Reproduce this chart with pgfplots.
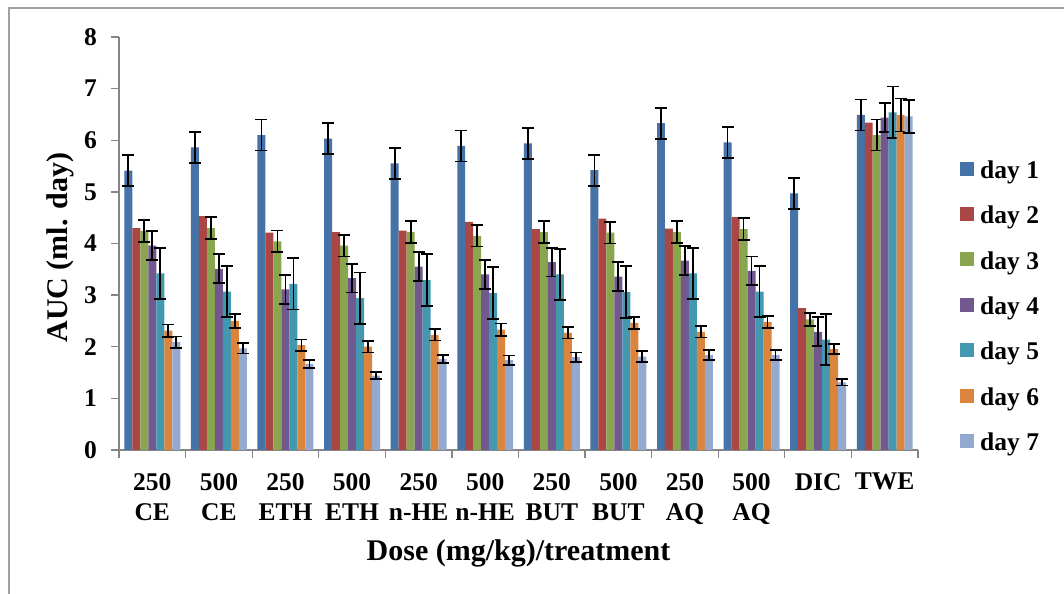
\documentclass[border=0pt]{standalone}
\usepackage{pgfplots}
\pgfplotsset{compat=1.18}
\usepackage{fontspec}
\setmainfont{Liberation Serif}
\definecolor{c1}{HTML}{4572A7}
\definecolor{c2}{HTML}{AA4643}
\definecolor{c3}{HTML}{89A54E}
\definecolor{c4}{HTML}{71588F}
\definecolor{c5}{HTML}{4198AF}
\definecolor{c6}{HTML}{DB843D}
\definecolor{c7}{HTML}{93A9CF}
\definecolor{axgray}{HTML}{868686}
\definecolor{framegray}{HTML}{A0A0A0}
\pgfplotsset{
  errstyle/.style={error bars/.cd, y dir=both, y explicit,
    error bar style={draw=black, solid, line width=1.8bp},
    error mark options={rotate=90, mark size=6bp, draw=black, solid, line width=1.8bp}},
}
\begin{document}
\begin{tikzpicture}[x=1bp,y=1bp]
\useasboundingbox (0,0) rectangle (1064,594);
\draw[line width=2bp, color=framegray] (8.5,-2) -- (8.5,586) -- (1066,586);
\begin{axis}[
  at={(119bp,144bp)}, anchor=south west,
  scale only axis, width=799bp, height=413bp,
  ybar, bar width=0.12,
  xmin=-0.5, xmax=11.5, ymin=0, ymax=8,
  axis x line*=bottom, axis y line*=left,
  axis line style={draw=axgray, line width=1.3bp},
  every tick/.style={draw=axgray, line width=1.3bp},
  tick align=outside, major tick length=8bp,
  ytick={0,1,...,8},
  xtick={-0.5,0.5,...,11.5}, xticklabels={},
  extra x ticks={0,1,...,11},
  extra x tick labels={{250\\CE},{500\\CE},{250\\ETH},{500\\ETH},{250\\n-HE},{500\\n-HE},{250\\BUT},{500\\BUT},{250\\AQ},{500\\AQ},{DIC},{TWE}},
  extra x tick style={major tick length=0pt, tick style={draw=none},
    xticklabel style={align=center, anchor=north, inner sep=0pt, yshift=-23bp,
      font=\fontsize{25.5bp}{30bp}\selectfont\bfseries}},
  /pgf/number format/assume math mode=true,
  yticklabel style={font=\fontsize{25.5bp}{30bp}\selectfont\bfseries, anchor=east, inner sep=0pt, xshift=-14bp},
  ylabel={AUC (ml. day)},
  xlabel={Dose (mg/kg)/treatment},
  ylabel style={at={(axis description cs:-0.0738,0.49)}, anchor=center, rotate=0,
    font=\fontsize{30bp}{36bp}\selectfont\bfseries},
  xlabel style={at={(axis description cs:0.5,-0.2494)}, anchor=center,
    font=\fontsize{30bp}{36bp}\selectfont\bfseries},
  legend image code/.code={\fill[#1] (0bp,-5.4bp) rectangle (14bp,8.6bp); \path (20bp,0bp);},
  legend style={at={(axis description cs:1.0526,0.701)}, anchor=north west,
    draw=none, fill=none, inner sep=0pt, row sep=26.2bp,
    nodes={inner sep=0pt},
    font=\fontsize{25.5bp}{30bp}\selectfont\bfseries},
  legend cell align=left,
]
\addplot[fill=c1, draw=none, bar shift=-0.36, errstyle] coordinates {
(0,5.41) +- (0,0.30) (1,5.86) +- (0,0.30) (2,6.10) +- (0,0.30) (3,6.03) +- (0,0.30)
(4,5.55) +- (0,0.30) (5,5.89) +- (0,0.30) (6,5.94) +- (0,0.30) (7,5.42) +- (0,0.30)
(8,6.33) +- (0,0.30) (9,5.96) +- (0,0.30) (10,4.97) +- (0,0.30) (11,6.49) +- (0,0.30)};
\addlegendentry{day 1}
\addplot[fill=c2, draw=none, bar shift=-0.24] coordinates {
(0,4.30) (1,4.53) (2,4.21) (3,4.22) (4,4.25) (5,4.42) (6,4.28) (7,4.48) (8,4.29) (9,4.51) (10,2.75) (11,6.34)};
\addlegendentry{day 2}
\addplot[fill=c3, draw=none, bar shift=-0.12, errstyle] coordinates {
(0,4.24) +- (0,0.21) (1,4.30) +- (0,0.21) (2,4.04) +- (0,0.21) (3,3.96) +- (0,0.21)
(4,4.22) +- (0,0.21) (5,4.15) +- (0,0.21) (6,4.22) +- (0,0.21) (7,4.21) +- (0,0.21)
(8,4.22) +- (0,0.21) (9,4.28) +- (0,0.21) (10,2.53) +- (0,0.13) (11,6.10) +- (0,0.30)};
\addlegendentry{day 3}
\addplot[fill=c4, draw=none, bar shift=0, errstyle] coordinates {
(0,3.96) +- (0,0.28) (1,3.51) +- (0,0.28) (2,3.11) +- (0,0.28) (3,3.33) +- (0,0.28)
(4,3.55) +- (0,0.28) (5,3.40) +- (0,0.28) (6,3.64) +- (0,0.28) (7,3.36) +- (0,0.28)
(8,3.67) +- (0,0.28) (9,3.47) +- (0,0.28) (10,2.29) +- (0,0.28) (11,6.44) +- (0,0.28)};
\addlegendentry{day 4}
\addplot[fill=c5, draw=none, bar shift=0.12, errstyle] coordinates {
(0,3.42) +- (0,0.50) (1,3.07) +- (0,0.50) (2,3.22) +- (0,0.50) (3,2.94) +- (0,0.50)
(4,3.29) +- (0,0.50) (5,3.04) +- (0,0.50) (6,3.40) +- (0,0.50) (7,3.06) +- (0,0.50)
(8,3.42) +- (0,0.50) (9,3.07) +- (0,0.50) (10,2.14) +- (0,0.50) (11,6.54) +- (0,0.50)};
\addlegendentry{day 5}
\addplot[fill=c6, draw=none, bar shift=0.24, errstyle] coordinates {
(0,2.31) +- (0,0.12) (1,2.50) +- (0,0.13) (2,2.03) +- (0,0.11) (3,2.00) +- (0,0.11)
(4,2.23) +- (0,0.11) (5,2.33) +- (0,0.12) (6,2.27) +- (0,0.11) (7,2.46) +- (0,0.12)
(8,2.29) +- (0,0.11) (9,2.48) +- (0,0.12) (10,1.96) +- (0,0.10) (11,6.49) +- (0,0.32)};
\addlegendentry{day 6}
\addplot[fill=c7, draw=none, bar shift=0.36, errstyle] coordinates {
(0,2.09) +- (0,0.11) (1,1.97) +- (0,0.10) (2,1.67) +- (0,0.08) (3,1.44) +- (0,0.07)
(4,1.76) +- (0,0.08) (5,1.74) +- (0,0.09) (6,1.80) +- (0,0.09) (7,1.81) +- (0,0.10)
(8,1.84) +- (0,0.09) (9,1.84) +- (0,0.10) (10,1.31) +- (0,0.06) (11,6.46) +- (0,0.32)};
\addlegendentry{day 7}
\end{axis}
\end{tikzpicture}
\end{document}
